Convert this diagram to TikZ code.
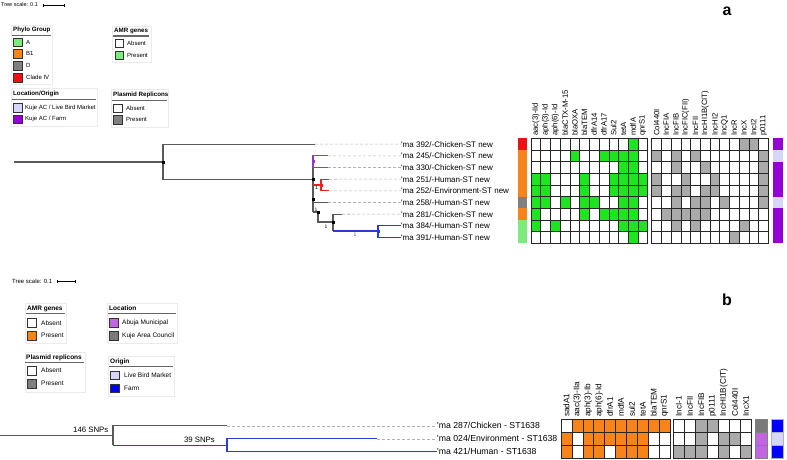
\documentclass[tikz,border=0pt]{standalone}
\usepackage{fontspec}
\setmainfont{Liberation Sans}
\usetikzlibrary{calc}
\definecolor{g}{HTML}{1EE61E}
\definecolor{n}{HTML}{FFFFFF}
\definecolor{p}{HTML}{AAAAAA}
\definecolor{o}{HTML}{F7841A}
\definecolor{cR}{HTML}{EE1111}
\definecolor{cO}{HTML}{F7841A}
\definecolor{cD}{HTML}{808080}
\definecolor{cL}{HTML}{7CEB7C}
\definecolor{cV}{HTML}{D6D6FA}
\definecolor{cU}{HTML}{9400D3}
\definecolor{cH}{HTML}{C265E0}
\definecolor{cB}{HTML}{0000FF}
\definecolor{cK}{HTML}{7A7A7A}
\definecolor{treeblue}{HTML}{2A3BD8}
\definecolor{treepur}{HTML}{9B30D0}
\definecolor{treered}{HTML}{EE2222}
\newcommand\gridblock[5]{%
  \foreach \row [count=\rr] in {#5}{%
    \foreach \v [count=\cc] in \row{%
      \filldraw[fill=\v,draw=black!85,line width=0.6pt] ({#1+(\cc-1)*#3},{#2+(\rr-1)*#4}) rectangle ++(#3,#4);
    }%
  }%
}
\begin{document}
\begin{tikzpicture}[x=1pt,y=-1pt,
  tree/.style={draw=black!65,line width=1.1pt},
  btree/.style={draw=treeblue,line width=1.1pt},
  ptree/.style={draw=treepur,line width=1.1pt},
  rtree/.style={draw=treered,line width=1.1pt},
  leader/.style={draw=black!30,line width=0.6pt,dash pattern=on 3pt off 2pt},
  lbl/.style={anchor=west,inner sep=0pt,font=\fontsize{8}{8}\selectfont},
  lblb/.style={anchor=west,inner sep=0pt,font=\fontsize{8.7}{8.7}\selectfont},
  hdr/.style={anchor=west,rotate=90,inner sep=0pt,font=\fontsize{7.7}{7.7}\selectfont},
  hdrb/.style={anchor=west,rotate=90,inner sep=0pt,font=\fontsize{8.2}{8.2}\selectfont},
  legtitle/.style={anchor=west,inner sep=0pt,font=\bfseries\fontsize{6.2}{6.2}\selectfont},
  legtext/.style={anchor=west,inner sep=0pt,font=\fontsize{6}{6}\selectfont},
  legtitleb/.style={anchor=west,inner sep=0pt,font=\bfseries\fontsize{6.5}{6.5}\selectfont},
  legtextb/.style={anchor=west,inner sep=0pt,font=\fontsize{6.5}{6.5}\selectfont},
  legsq/.style={draw=black!80,line width=0.5pt,minimum size=8.5pt,inner sep=0pt},
  legbox/.style={draw=black!8,line width=0.5pt},
  uline/.style={draw=black!60,line width=1.3pt},
  dotm/.style={fill=#1,inner sep=0pt,minimum size=3pt},
  one/.style={inner sep=0pt,font=\fontsize{5}{5}\selectfont},
  scalebar/.style={draw=black,line width=0.5pt},
  panel/.style={inner sep=0pt,font=\bfseries\fontsize{16}{16}\selectfont}
]
\useasboundingbox (0,0) rectangle (787,459);

% ================= PANEL A =================
\node[panel] (pa) at (727,11) {a};
\node[inner sep=0pt,anchor=west,font=\fontsize{5.5}{5.5}\selectfont] (tsa) at (1,5) {Tree scale: 0.1};
\coordinate (sa1) at (43,5); \coordinate (sa2) at (64,5);
\draw[scalebar] (sa1) -- (sa2);
\draw[scalebar] ($(sa1)+(0,-1.5)$) -- ($(sa1)+(0,1.5)$);
\draw[scalebar] ($(sa2)+(0,-1.5)$) -- ($(sa2)+(0,1.5)$);

% legends panel a
\draw[legbox] (11,25) rectangle (52,84);
\node[legtitle] (lgpg) at (13,30) {Phylo Group};
\draw[uline] (12,35.5) -- (51,35.5);
\foreach \col/\txt/\yy [count=\i] in {cL/A/42,cO/B1/53.5,cD/D/65.5,cR/Clade IV/77.5}{
  \node[legsq,fill=\col] (pgs\i) at (17.75,\yy) {};
  \node[legtext] (pgt\i) at (26,\yy) {\txt};
}
\draw[legbox] (112,26) rectangle (151,62);
\node[legtitle] (lgamr) at (114,31) {AMR genes};
\draw[uline] (113,36) -- (149,36);
\node[legsq,fill=white] (amrs1) at (119.25,43) {};
\node[legtext] (amrt1) at (127,43) {Absent};
\node[legsq,fill=cL] (amrs2) at (119.25,55) {};
\node[legtext] (amrt2) at (127,55) {Present};

\draw[legbox] (11,88) rectangle (97,126);
\node[legtitle] (lglo) at (13,94) {Location/Origin};
\draw[uline] (12,99.5) -- (96,99.5);
\node[legsq,fill=cV] (los1) at (17.75,107.5) {};
\node[legtext] (lot1) at (25,107.5) {Kuje AC / Live Bird Market};
\node[legsq,fill=cU] (los2) at (17.75,119) {};
\node[legtext] (lot2) at (25,119) {Kuje AC / Farm};

\draw[legbox] (111,89) rectangle (168,127);
\node[legtitle] (lgpr) at (113,95) {Plasmid Replicons};
\draw[uline] (112,100.5) -- (167,100.5);
\node[legsq,fill=white] (prs1) at (117.75,108) {};
\node[legtext] (prt1) at (126,108) {Absent};
\node[legsq,fill=cD] (prs2) at (117.75,119.5) {};
\node[legtext] (prt2) at (126,119.5) {Present};

% tree panel a
\coordinate (r0) at (14,162);
\coordinate (n0) at (163,162);
\coordinate (e392) at (315,144.1);
\coordinate (n1) at (313,179.2);
\draw[tree] (r0) -- (n0);
\draw[tree] (e392) -| (n0) |- (n1);
\coordinate (vtop) at (313,161.6);
\coordinate (vbot) at (313,212);
\draw[tree] (vtop) -- (vbot);
\coordinate (np) at (313,161.6);
\coordinate (e245) at (328,155.8);
\coordinate (e330) at (328,167.5);
\draw[ptree] (e245) -| (np) |- (e330);
\coordinate (rj) at (313,185);
\coordinate (nr) at (321,185);
\coordinate (e251) at (329,179.2);
\coordinate (e252) at (329,190.8);
\draw[rtree] (rj) -- (nr);
\draw[rtree] (e251) -| (nr) |- (e252);
\coordinate (j258) at (313,202.5);
\coordinate (e258) at (328,202.5);
\draw[tree] (j258) -- (e258);
\coordinate (n3) at (318,212);
\coordinate (n4) at (333,222);
\draw[tree] (vbot) -- (n3) |- (n4);
\coordinate (e281) at (342,214.2);
\coordinate (j4b) at (333,231);
\draw[tree] (e281) -| (n4) -- (j4b);
\coordinate (n5) at (378,231);
\draw[btree] (j4b) -- (n5);
\foreach \nm/\txt [count=\i] in {392/{\textquotesingle ma 392/-Chicken-ST new},245/{\textquotesingle ma 245/-Chicken-ST new},330/{\textquotesingle ma 330/-Chicken-ST new},251/{\textquotesingle ma 251/-Human-ST new},252/{\textquotesingle ma 252/-Environment-ST new},258/{\textquotesingle ma 258/-Human-ST new},281/{\textquotesingle ma 281/-Chicken-ST new},384/{\textquotesingle ma 384/-Human-ST new},391/{\textquotesingle ma 391/-Human-ST new}}{
  \node[lbl] (L\nm) at (401,{138.3+(\i-0.5)*11.67}) {\txt};
}
\draw[btree] (L384.west) -| (n5) |- (L391.west);
\foreach \nm in {392,245,330,251,252,258,281}{
  \draw[leader] (e\nm) -- (L\nm.west);
}
\node[dotm=black] (d0) at (n0) {};
\node[dotm=black] (d1) at (n1) {};
\node[dotm=treepur] (dp) at (np) {};
\node[dotm=treered] (dr) at (nr) {};
\node[dotm=black] (d2) at (313,199) {};
\node[dotm=black] (d3) at (n3) {};
\node[dotm=black] (d4) at (n4) {};
\node[dotm=treeblue] (d5) at (n5) {};
\node[one] (o1) at (316.5,188) {1};
\node[one] (o2) at (316,210) {1};
\node[one] (o3) at (326,226.5) {1};
\node[one,text=treeblue] (o4) at (355,235) {1};

\foreach \col [count=\i] in {cR,cO,cO,cO,cO,cD,cO,cL,cL}{
  \fill[\col] (517.5,{138.3+(\i-1)*11.67}) rectangle ++(9.5,11.67);
}
\foreach \col [count=\i] in {cU,cV,cU,cU,cU,cV,cU,cU,cU}{
  \fill[\col] (772.5,{138.3+(\i-1)*11.67}) rectangle ++(10.8,11.67);
}
\gridblock{531}{138.3}{9.725}{11.67}{
{n,n,n,n,n,n,n,n,n,n,g,n},
{n,n,n,n,g,n,n,g,g,g,g,n},
{n,n,n,n,n,n,n,n,n,g,g,n},
{g,g,n,n,n,g,n,n,g,g,g,g},
{g,g,n,n,n,g,n,n,g,g,g,g},
{g,g,n,g,n,g,g,n,n,g,g,n},
{g,n,n,n,n,g,n,g,g,g,g,n},
{g,n,g,n,n,n,n,n,n,g,g,g},
{n,n,n,n,n,n,n,n,n,n,g,n}}
\gridblock{651.7}{138.3}{9.725}{11.67}{
{n,n,n,n,n,n,n,n,n,p,p,n},
{p,n,p,n,p,n,n,n,n,n,n,p},
{n,n,p,n,n,p,n,n,n,n,n,p},
{p,n,n,p,n,n,p,n,n,n,n,p},
{p,n,p,p,n,p,p,n,n,n,n,p},
{n,n,p,n,p,p,n,p,n,n,n,p},
{n,p,p,p,p,p,n,n,n,n,n,n},
{n,n,p,n,p,n,n,n,n,p,n,n},
{n,n,n,n,n,n,n,n,p,n,n,n}}
\foreach \hd [count=\i] in {aac(3)-IId,aph(3)-Id,aph(6)-Id,blaCTX-M-15,blaOXA,blaTEM,dfrA14,dfrA17,Sul2,tetA,mdfA,qnrS1}{
  \node[hdr] (ha\i) at ({531+(\i-0.5)*9.725},136) {\hd};
}
\foreach \hd [count=\i] in {Col440I,IncFIA,IncFIB,IncFIC(FII),IncFII,IncHI1B(CIT),IncHI2,IncQ1,IncR,IncX,IncI2,p0111}{
  \node[hdr] (hp\i) at ({651.7+(\i-0.5)*9.725},136) {\hd};
}

% ================= PANEL B =================
\node[panel] (pb) at (727,300) {b};
\node[inner sep=0pt,anchor=west,font=\fontsize{6}{6}\selectfont] (tsb) at (12,281.5) {Tree scale: 0.1};
\coordinate (sb1) at (57,281.5); \coordinate (sb2) at (75,281.5);
\draw[scalebar] (sb1) -- (sb2);
\draw[scalebar] ($(sb1)+(0,-1.5)$) -- ($(sb1)+(0,1.5)$);
\draw[scalebar] ($(sb2)+(0,-1.5)$) -- ($(sb2)+(0,1.5)$);

\draw[legbox] (25,303) rectangle (66,343);
\node[legtitleb] (lbamr) at (27,308.5) {AMR genes};
\draw[uline] (26,313.5) -- (65,313.5);
\node[legsq,fill=white] (bas1) at (31.5,322.7) {};
\node[legtextb] (bat1) at (41,322.7) {Absent};
\node[legsq,fill=o] (bas2) at (31.5,335.7) {};
\node[legtextb] (bat2) at (41,335.7) {Present};

\draw[legbox] (107,303) rectangle (177,343);
\node[legtitleb] (lbloc) at (109,308.5) {Location};
\draw[uline] (108,313.5) -- (176,313.5);
\node[legsq,fill=cH] (bls1) at (113.5,322.7) {};
\node[legtextb] (blt1) at (122,322.7) {Abuja Municipal};
\node[legsq,fill=cK] (bls2) at (113.5,335.7) {};
\node[legtextb] (blt2) at (122,335.7) {Kuje Area Council};

\draw[legbox] (25,352) rectangle (85,392);
\node[legtitleb] (lbpr) at (26,357.5) {Plasmid replicons};
\draw[uline] (25,362.5) -- (84,362.5);
\node[legsq,fill=white] (bps1) at (31.5,370.5) {};
\node[legtextb] (bpt1) at (41,370.5) {Absent};
\node[legsq,fill=cD] (bps2) at (31.5,383.5) {};
\node[legtextb] (bpt2) at (41,383.5) {Present};

\draw[legbox] (108,356) rectangle (174,396);
\node[legtitleb] (lbor) at (110,361.7) {Origin};
\draw[uline] (109,366.7) -- (173,366.7);
\node[legsq,fill=cV] (bos1) at (114.5,375) {};
\node[legtextb] (bot1) at (124,375) {Live Bird Market};
\node[legsq,fill=cB] (bos2) at (114.5,388) {};
\node[legtextb] (bot2) at (124,388) {Farm};

\coordinate (rb0) at (0,435.5);
\coordinate (nb1) at (113,435.5);
\coordinate (eb287) at (227,425.8);
\coordinate (jb1) at (113,445.3);
\coordinate (nb2) at (227,445.3);
\coordinate (eb024) at (377,438.8);
\node[lblb] (LB287) at (437,425.8) {\textquotesingle ma 287/Chicken - ST1638};
\node[lblb] (LB024) at (437,438.8) {\textquotesingle ma 024/Environment - ST1638};
\node[lblb] (LB421) at (437,451.8) {\textquotesingle ma 421/Human - ST1638};
\draw[tree] (rb0) -- (nb1);
\draw[tree] (eb287) -| (nb1) -- (jb1);
\draw[btree] (jb1) -- (nb2);
\draw[btree] (eb024) -| (nb2) |- (LB421.west);
\draw[leader] (eb287) -- (LB287.west);
\draw[leader] (eb024) -- (LB024.west);
\node[inner sep=0pt,anchor=east,font=\fontsize{7.8}{7.8}\selectfont] (snp1) at (108.5,430) {146 SNPs};
\node[inner sep=0pt,anchor=east,font=\fontsize{7.8}{7.8}\selectfont] (snp2) at (215,440) {39 SNPs};

\gridblock{561}{419.3}{10.9}{13}{
{n,o,o,o,o,o,o,o,o,o},
{o,n,o,o,o,o,o,o,n,n},
{o,n,o,o,n,o,o,o,n,n}}
\gridblock{673.3}{419.3}{11.2}{13}{
{n,n,p,p,n,n,n},
{n,n,p,n,p,p,n},
{p,p,p,n,p,n,p}}
\foreach \col [count=\i] in {cK,cH,cH}{
  \filldraw[fill=\col,draw=black!50,line width=0.4pt] (755,{419.3+(\i-1)*13}) rectangle ++(11.7,13);
}
\foreach \col [count=\i] in {cB,cV,cB}{
  \filldraw[fill=\col,draw=black!30,line width=0.4pt] (771,{419.3+(\i-1)*13}) rectangle ++(12,13);
}
\foreach \hd [count=\i] in {sadA1,aac(3)-IIa,aph(3)-Ib,aph(6)-Id,dfrA1,mdfA,sul2,tetA,blaTEM,qnrS1}{
  \node[hdrb] (hba\i) at ({561+(\i-0.5)*10.9},417) {\hd};
}
\foreach \hd [count=\i] in {IncI-1,IncFII,IncFIB,p0111,IncHI1B(CIT),Col440I,IncX1}{
  \node[hdrb] (hbp\i) at ({673.3+(\i-0.5)*11.2},417) {\hd};
}
\end{tikzpicture}
\end{document}
